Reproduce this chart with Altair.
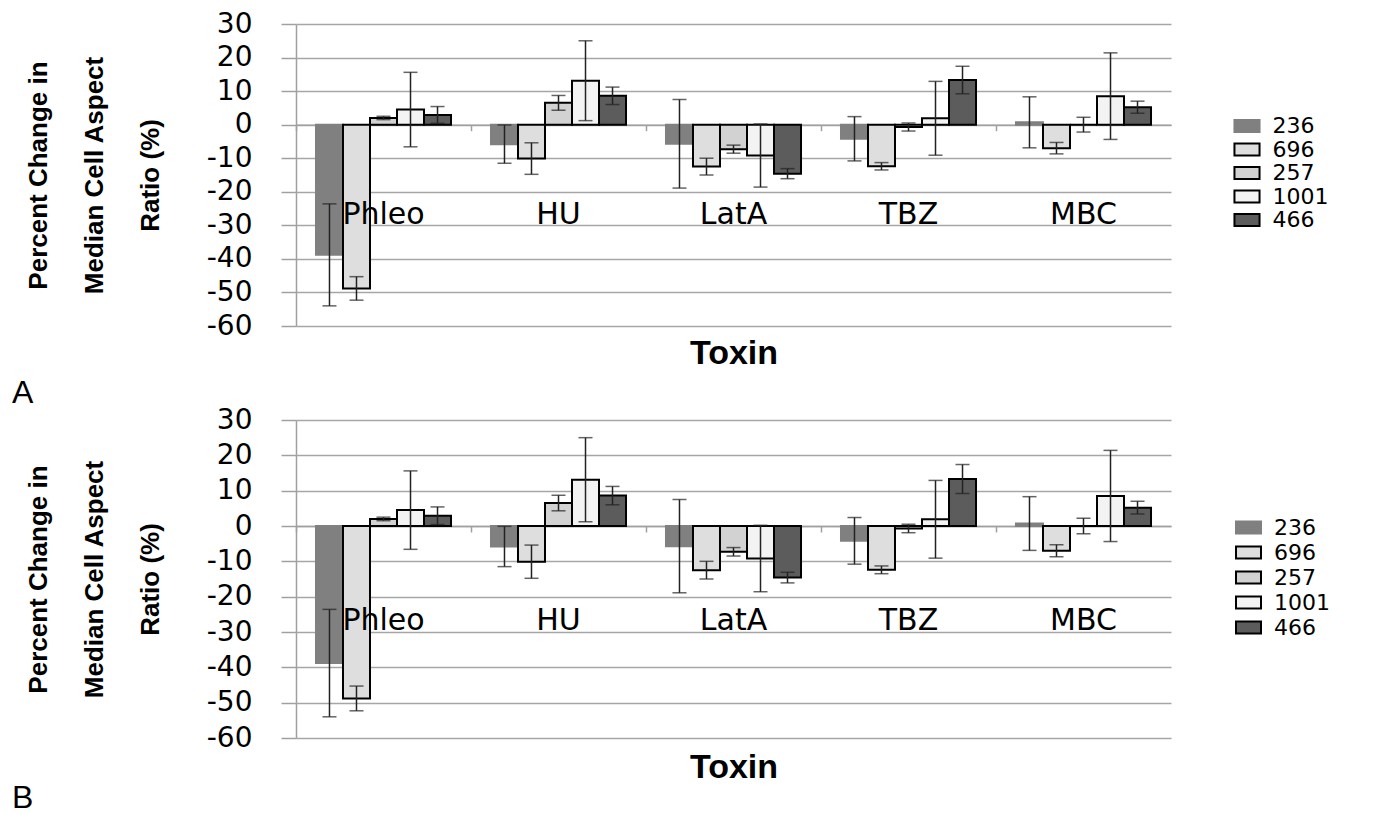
import altair as alt
import pandas as pd

toxins = ["Phleo", "HU", "LatA", "TBZ", "MBC"]
strains = ["236", "696", "257", "1001", "466"]

val_236 = [-38.8, -5.8, -5.7, -4.2, 0.7]
val_696 = [-48.8, -10.1, -12.5, -12.4, -7.0]
val_257 = [2.0, 6.5, -7.3, -0.7, 0.0]
val_1001 = [4.5, 13.1, -9.2, 1.9, 8.5]
val_466 = [2.9, 8.6, -14.6, 13.3, 5.2]

err_236 = [15.2, 5.7, 13.2, 6.6, 7.6]
err_696 = [3.5, 4.7, 2.5, 1.1, 1.7]
err_257 = [0.5, 2.2, 1.2, 1.2, 2.2]
err_1001 = [11.1, 11.9, 9.4, 11.0, 12.9]
err_466 = [2.5, 2.6, 1.5, 4.1, 1.8]

y_ticks = [30, 20, 10, 0, -10, -20, -30, -40, -50, -60]

fills = ["#808080", "#dedede", "#d2d2d2", "#f3f3f3", "#5c5c5c"]
strokes = ["#808080", "#000000", "#000000", "#000000", "#000000"]

vals = [val_236, val_696, val_257, val_1001, val_466]
errs = [err_236, err_696, err_257, err_1001, err_466]
rows = []
for s, vs, es in zip(strains, vals, errs):
    for t, v, e in zip(toxins, vs, es):
        rows.append({"toxin": t, "strain": s, "value": v, "lo": v - e, "hi": v + e})
df = pd.DataFrame(rows)
lab_df = pd.DataFrame({"toxin": toxins})

W = 875
Y_TITLE = ["Percent Change in", "Median Cell Aspect", "Ratio (%)"]


def panel(h, letter, sym_size, sym_path, lab_off, row_pad, leg_y, toxin_y, letter_y):
    y0 = h * 30 / 90.0
    xscale = alt.Scale(paddingInner=0, paddingOuter=0)
    xoff = alt.XOffset("strain:N", sort=strains,
                       scale=alt.Scale(domain=strains, paddingOuter=0.74, paddingInner=0))
    yscale = alt.Scale(domain=[-60, 30], nice=False)
    xaxis = alt.Axis(title="Toxin", orient="bottom", offset=-(h - y0),
                     labels=False, ticks=True, tickSize=6, bandPosition=0,
                     tickColor="#a0a0a0", tickWidth=1.5,
                     domainColor="#a0a0a0", domainWidth=1.5, grid=False,
                     titleFont="Liberation Sans", titleFontSize=34,
                     titleFontWeight="bold", titleColor="black",
                     titleY=toxin_y, titleBaseline="middle")
    yaxis = alt.Axis(values=y_ticks, title=Y_TITLE,
                     titleFont="Liberation Sans",
                     titleFontSize=26, titleFontWeight="bold", titleColor="black",
                     titleLineHeight=56, titleAngle=270, titleAlign="center",
                     titleBaseline="middle", titleX=-258, titleY=h / 2,
                     labelFont="DejaVu Sans", labelFontSize=28, labelColor="black",
                     labelExpr="'' + datum.value", labelOverlap=False,
                     labelPadding=29, tickSize=15, tickColor="#a0a0a0", tickWidth=1.5,
                     domainColor="#a0a0a0", domainWidth=1.5,
                     grid=True, gridColor="#a6a6a6", gridWidth=1.3)
    leg = alt.Legend(
        orient="none", legendX=939, legendY=leg_y, title=None,
        symbolType=sym_path, symbolSize=sym_size, symbolStrokeWidth=2,
        labelFont="DejaVu Sans", labelFontSize=22, labelColor="black",
        labelOffset=lab_off, rowPadding=row_pad, symbolOpacity=1,
    )
    xenc = alt.X("toxin:N", sort=toxins, scale=xscale, axis=xaxis, title="Toxin")
    bars = alt.Chart(df).mark_bar(strokeWidth=2).encode(
        x=xenc,
        xOffset=xoff,
        y=alt.Y("value:Q", scale=yscale, axis=yaxis, title=Y_TITLE),
        fill=alt.Fill("strain:N", sort=strains, scale=alt.Scale(domain=strains, range=fills), legend=leg),
        stroke=alt.Stroke("strain:N", sort=strains, scale=alt.Scale(domain=strains, range=strokes), legend=leg),
    )
    rules = alt.Chart(df).mark_rule(color="#222222", strokeWidth=1.5).encode(
        x=xenc,
        xOffset=xoff,
        y=alt.Y("lo:Q", scale=yscale, axis=yaxis, title=Y_TITLE),
        y2="hi:Q",
    )
    cap_lo = alt.Chart(df).mark_tick(color="#222222", size=14, thickness=1.5, orient="horizontal").encode(
        x=xenc,
        xOffset=xoff,
        y=alt.Y("lo:Q", scale=yscale, axis=yaxis, title=Y_TITLE),
    )
    cap_hi = alt.Chart(df).mark_tick(color="#222222", size=14, thickness=1.5, orient="horizontal").encode(
        x=xenc,
        xOffset=xoff,
        y=alt.Y("hi:Q", scale=yscale, axis=yaxis, title=Y_TITLE),
    )
    labels = alt.Chart(lab_df).mark_text(font="DejaVu Sans", fontSize=30, color="black",
                                         baseline="middle").encode(
        x=xenc,
        y=alt.YDatum(-27, scale=yscale, axis=yaxis, title=Y_TITLE),
        text="toxin:N",
    )
    let = alt.Chart(pd.DataFrame({"t": [letter]})).mark_text(
        font="Liberation Sans", fontSize=32, color="black", align="left", baseline="alphabetic"
    ).encode(x=alt.value(-284), y=alt.value(letter_y), text="t:N")
    return alt.layer(bars, rules, cap_lo, cap_hi, labels, let).properties(width=W, height=h)


pa = panel(302, "A", 484, "M-1.14,-0.55L1.14,-0.55L1.14,0.55L-1.14,0.55Z", 13.5, 0.5, 90, 229, 378.7)
pb = panel(318, "B", 625, "M-1,-0.48L1,-0.48L1,0.48L-1,0.48Z", 12, 0, 94, 241, 388)

chart = alt.vconcat(pa, pb, spacing=94, bounds="flush").resolve_scale(
    fill="independent", stroke="independent"
).resolve_legend(fill="independent", stroke="independent").properties(
    padding={"left": 4, "top": 2, "right": 5, "bottom": 5}
).configure_view(stroke=None)

chart.save("out.html", embed_options={"renderer": "svg", "actions": False})
